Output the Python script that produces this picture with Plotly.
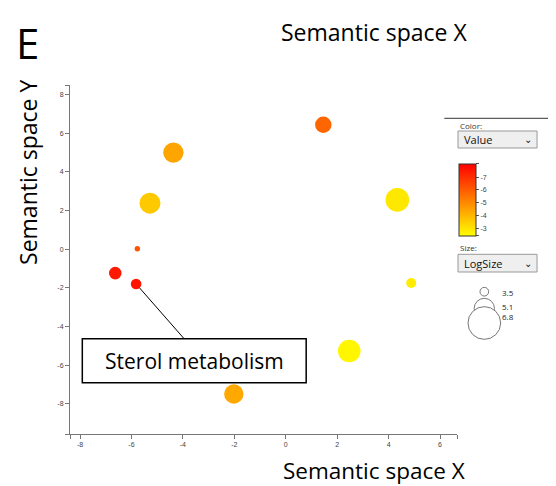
import plotly.graph_objects as go

# ---- data ----
sem_x = [1.46, -4.37, -5.28, -5.77, -6.63, -5.82, -2.02, 2.47, 4.34, 4.88]
sem_y = [6.44, 5.00, 2.38, 0.02, -1.24, -1.80, -7.50, -5.27, 2.55, -1.75]
value = [-5.8, -4.4, -3.6, -6.2, -7.5, -7.6, -4.3, -2.6, -2.9, -2.8]
log_size = [4.56, 5.11, 5.19, 3.05, 4.04, 3.76, 4.97, 5.41, 5.55, 3.68]
x_ticks = [-8, -6, -4, -2, 0, 2, 4, 6]
y_ticks = [-8, -6, -4, -2, 0, 2, 4, 6, 8]
cbar_ticks = [-7, -6, -5, -4, -3]
size_legend = [3.5, 5.1, 6.8]
label_index = 5
label_text = "Sterol metabolism"

W, H = 556, 486
O = 8  # page body margin
L, R, T, B = 70, 456.7, 85, 434
XR = [-8.39, 6.66]
YR = [-9.57, 8.5]
CMIN, CMAX = 2.4, 8.05


def radius(s):
    return 3.64 * s - 8.4


def px(x):
    return (x - L) / (R - L)


def py(y):
    return (B - y) / (B - T)


fig = go.Figure()
fig.add_trace(go.Scatter(
    x=sem_x, y=sem_y, mode="markers",
    marker=dict(
        size=[2 * radius(s) for s in log_size],
        sizemode="diameter",
        color=[-v for v in value],
        cmin=CMIN, cmax=CMAX,
        colorscale=[[0, "#FFFF00"], [1, "#FF0000"]],
        line=dict(width=0), opacity=1,
        colorbar=dict(
            x=px(459), xanchor="left", xpad=0,
            y=py(199.85), yanchor="middle", ypad=0,
            len=71.7, lenmode="pixels", thickness=17,
            outlinewidth=1, outlinecolor="#333",
            tickvals=[CMIN] + [-t for t in cbar_ticks] + [CMAX],
            ticktext=[""] + [str(t) for t in cbar_ticks] + [""],
            ticks="outside", ticklen=3, tickcolor="#555",
            tickfont=dict(size=7, color="#444", family="Arial"),
        ),
    ),
    showlegend=False, hoverinfo="skip",
))

shapes = []
annotations = []

# label box and leader line
bx0, bx1, by0, by1 = px(82.3), px(306), py(338.7), py(382.7)
shapes.append(dict(type="rect", xref="paper", yref="paper", x0=bx0, x1=bx1, y0=by1, y1=by0,
                   line=dict(color="#000", width=1.5), fillcolor="white", layer="above"))
shapes.append(dict(type="line", xref="x", yref="y",
                   x0=sem_x[label_index], y0=sem_y[label_index],
                   x1=XR[0] + (184 - L) / (R - L) * (XR[1] - XR[0]),
                   y1=YR[1] - (338.7 - T) / (B - T) * (YR[1] - YR[0]),
                   line=dict(color="#000", width=1), layer="below"))
annotations.append(dict(xref="paper", yref="paper", x=(bx0 + bx1) / 2, y=(by0 + by1) / 2,
                        xanchor="center", yanchor="middle",
                        text=label_text, showarrow=False,
                        font=dict(size=21, color="#000", family="Open Sans")))

# side panel
shapes.append(dict(type="line", xref="paper", yref="paper", x0=px(444), x1=px(556), y0=py(118.3), y1=py(118.3),
                   line=dict(color="#333", width=1)))
for (lab, sel, ytop, ybot, ylab) in [("Color:", "Value", 131, 148, 125.5), ("Size:", "LogSize", 254.3, 272, 248)]:
    shapes.append(dict(type="rect", xref="paper", yref="paper", x0=px(457.7), x1=px(536.7),
                       y0=py(ybot), y1=py(ytop), line=dict(color="#999", width=1), fillcolor="#efefef"))
    annotations.append(dict(xref="paper", yref="paper", x=px(458), y=py(ylab), xanchor="left", yanchor="middle",
                            text=lab, showarrow=False, font=dict(size=8, color="#333", family="Open Sans")))
    annotations.append(dict(xref="paper", yref="paper", x=px(462), y=py((ytop + ybot) / 2), xanchor="left",
                            yanchor="middle", text=sel, showarrow=False,
                            font=dict(size=11, color="#111", family="Open Sans")))
    annotations.append(dict(xref="paper", yref="paper", x=px(528), y=py((ytop + ybot) / 2), xanchor="center",
                            yanchor="middle", text="⌄", showarrow=False,
                            font=dict(size=10, color="#222", family="DejaVu Sans")))

# size legend
centers = [291.7, 308.5, 323.0]
for s, cy, ly in zip(size_legend, centers, [292.3, 306, 316.7]):
    r = radius(s)
    shapes.append(dict(type="circle", xref="paper", yref="paper", xsizemode="pixel", ysizemode="pixel",
                       xanchor=px(484), yanchor=py(cy), x0=-r, x1=r, y0=-r, y1=r,
                       line=dict(color="#777", width=1), fillcolor="white"))
    annotations.append(dict(xref="paper", yref="paper", x=px(500), y=py(ly), xanchor="left", yanchor="middle",
                            text=str(s), showarrow=False, font=dict(size=8, color="#222", family="Open Sans")))

# titles
annotations.append(dict(xref="paper", yref="paper", x=px(14), y=py(12), xanchor="left", yanchor="top",
                        text="E", showarrow=False, font=dict(size=42, color="#000", family="Open Sans")))
annotations.append(dict(xref="paper", yref="paper", x=px(374), y=py(32), xanchor="center", yanchor="middle",
                        text="Semantic space X", showarrow=False, font=dict(size=23, color="#000", family="Open Sans")))
annotations.append(dict(xref="paper", yref="paper", x=px(374), y=py(470), xanchor="center", yanchor="middle",
                        text="Semantic space X", showarrow=False, font=dict(size=22.5, color="#000", family="Open Sans")))
annotations.append(dict(xref="paper", yref="paper", x=px(28), y=py(172), xanchor="center", yanchor="middle",
                        text="Semantic space Y", textangle=-90, showarrow=False,
                        font=dict(size=23, color="#000", family="Open Sans")))

axis_common = dict(showgrid=False, zeroline=False, showline=True, linecolor="#777", linewidth=1,
                   ticks="outside", ticklen=4, tickcolor="#777",
                   tickfont=dict(size=7, color="#444", family="Arial"))
fig.update_layout(
    width=W - O, height=H - O, autosize=False,
    margin=dict(l=L - O, r=W - R, t=T - O, b=H - B),
    paper_bgcolor="white", plot_bgcolor="white",
    xaxis=dict(range=XR, tickvals=[XR[0]] + x_ticks + [XR[1]],
               ticktext=[""] + [str(t) for t in x_ticks] + [""], **axis_common),
    yaxis=dict(range=YR, tickvals=[YR[0]] + y_ticks + [YR[1]],
               ticktext=[""] + [str(t) for t in y_ticks] + [""], **axis_common),
    shapes=shapes, annotations=annotations,
)
fig.write_html("out.html")
